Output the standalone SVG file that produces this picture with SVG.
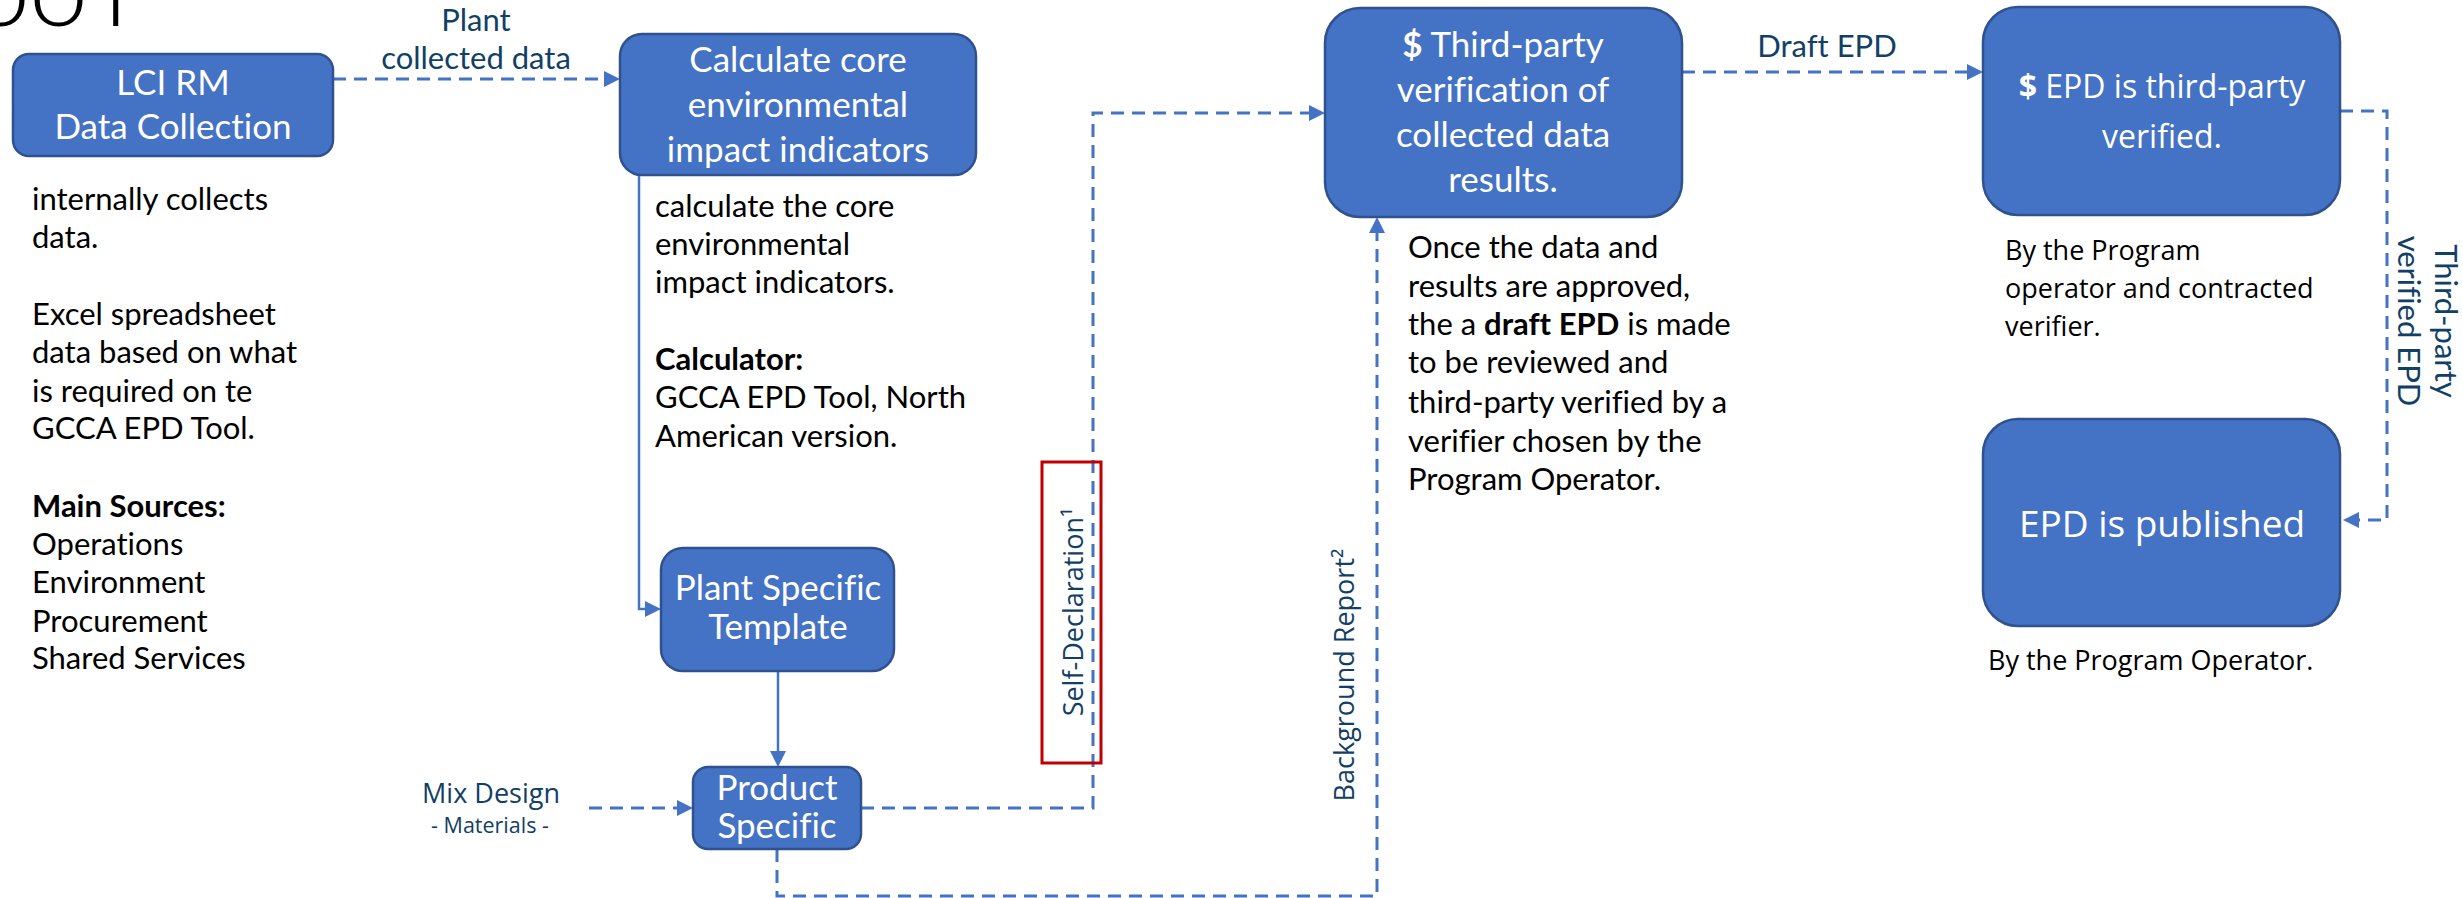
<svg xmlns="http://www.w3.org/2000/svg" width="2463" height="898" viewBox="0 0 2463 898">
<style>
text{font-variant-ligatures:none;font-feature-settings:"liga" 0,"clig" 0}
.box{fill:#4472C4;stroke:#2F528F;stroke-width:2.5}
.nt{fill:#FFFFFF;font-family:Lato,"Liberation Sans",sans-serif;font-size:35px;text-anchor:middle}
.nt2{fill:#FFFFFF;font-family:"Open Sans","Liberation Sans",sans-serif;text-anchor:middle}
.body{fill:#000000;font-family:Lato,"Liberation Sans",sans-serif;font-size:31px}
.body2{fill:#000000;font-family:"Open Sans","Liberation Sans",sans-serif;font-size:27px}
.lbl{fill:#123F66;font-family:Lato,"Liberation Sans",sans-serif;font-size:31px;text-anchor:middle}
.lbl2{fill:#123F66;font-family:"Open Sans","Liberation Sans",sans-serif;text-anchor:middle}
.dash{fill:none;stroke:#4472C4;stroke-width:3;stroke-dasharray:13 8}
.solid{fill:none;stroke:#4472C4;stroke-width:2.5}
.b{font-weight:bold}
</style>
<defs>
<marker id="ah" viewBox="0 0 16 16" markerWidth="16" markerHeight="16" refX="8" refY="8" orient="auto" markerUnits="userSpaceOnUse">
<path d="M0,0 L16,8 L0,16 z" fill="#4472C4"/>
</marker>
</defs>
<rect width="2463" height="898" fill="#FFFFFF"/>

<text id="title" x="-29 29 104" y="26" font-family="Lato,'Liberation Sans',sans-serif" font-weight="300" font-size="106" fill="#000000">ool</text>

<g id="connectors">
<path class="dash" d="M333,79 H612" marker-end="url(#ah)"/>
<path class="dash" d="M861,808 H1093 V113 H1317" marker-end="url(#ah)"/>
<path class="dash" d="M777,849 V896 H1377 V225" marker-end="url(#ah)"/>
<path class="dash" d="M1682,72 H1975" marker-end="url(#ah)"/>
<path class="dash" d="M2340,111 H2387 V520 H2351" marker-end="url(#ah)"/>
<path class="dash" d="M589,808 H685" marker-end="url(#ah)"/>
<path class="solid" d="M639,175 V609 H653" marker-end="url(#ah)"/>
<path class="solid" d="M778,671 V759" marker-end="url(#ah)"/>
<text class="lbl" x="476" y="31">Plant</text>
<text class="lbl" x="476" y="69">collected data</text>
<text class="lbl" x="1827" y="57">Draft EPD</text>
<text class="lbl2" x="491" y="803" font-size="27">Mix Design</text>
<text class="lbl2" x="490" y="833" font-size="21.5">- Materials -</text>
<rect x="1042" y="462" width="59" height="301" fill="none" stroke="#C00000" stroke-width="3"/>
<text class="lbl2" font-size="27" transform="translate(1083,612) rotate(-90)">Self-Declaration¹</text>
<text class="lbl2" font-size="27" transform="translate(1354,675) rotate(-90)">Background Report²</text>
<text class="lbl" transform="translate(2435,321) rotate(90)"><tspan x="0" y="0">Third-party</tspan><tspan x="0" y="37">verified EPD</tspan></text>
</g>

<g id="lci">
<rect class="box" x="13" y="54" width="320" height="102" rx="16"/>
<text class="nt" x="173" y="95">LCI RM</text>
<text class="nt" x="173" y="139">Data Collection</text>
<text class="body" font-size="30"><tspan x="32" y="210">internally collects</tspan><tspan x="32" y="248">data.</tspan><tspan x="32" y="325">Excel spreadsheet</tspan><tspan x="32" y="363">data based on what</tspan><tspan x="32" y="402">is required on te</tspan><tspan x="32" y="439">GCCA EPD Tool.</tspan><tspan x="32" y="517" class="b">Main Sources:</tspan><tspan x="32" y="555">Operations</tspan><tspan x="32" y="593">Environment</tspan><tspan x="32" y="632">Procurement</tspan><tspan x="32" y="669">Shared Services</tspan></text>
</g>

<g id="calc">
<rect class="box" x="620" y="34" width="356" height="141" rx="22"/>
<text class="nt" x="798" y="72">Calculate core</text>
<text class="nt" x="798" y="117">environmental</text>
<text class="nt" x="798" y="162">impact indicators</text>
<text class="body"><tspan x="655" y="217">calculate the core</tspan><tspan x="655" y="255">environmental</tspan><tspan x="655" y="293">impact indicators.</tspan><tspan x="655" y="370" class="b">Calculator:</tspan><tspan x="655" y="408">GCCA EPD Tool, North</tspan><tspan x="655" y="447">American version.</tspan></text>
</g>

<g id="plant">
<rect class="box" x="661" y="548" width="233" height="123" rx="22"/>
<text class="nt" font-size="29" x="778" y="600">Plant Specific</text>
<text class="nt" font-size="29" x="778" y="639">Template</text>
</g>

<g id="product">
<rect class="box" x="693" y="767" width="168" height="82" rx="15"/>
<text class="nt" font-size="28.5" x="777" y="800">Product</text>
<text class="nt" font-size="28.5" x="777" y="838">Specific</text>
</g>

<g id="thirdparty">
<rect class="box" x="1325" y="8" width="357" height="209" rx="35"/>
<text class="nt" x="1503" y="57"><tspan class="b">$</tspan> Third-party</text>
<text class="nt" x="1503" y="102">verification of</text>
<text class="nt" x="1503" y="147">collected data</text>
<text class="nt" x="1503" y="192">results.</text>
<text class="body"><tspan x="1408" y="258">Once the data and</tspan><tspan x="1408" y="297">results are approved,</tspan><tspan x="1408" y="335">the a <tspan class="b">draft EPD</tspan> is made</tspan><tspan x="1408" y="373">to be reviewed and</tspan><tspan x="1408" y="413">third-party verified by a</tspan><tspan x="1408" y="452">verifier chosen by the</tspan><tspan x="1408" y="490">Program Operator.</tspan></text>
</g>

<g id="verified">
<rect class="box" x="1983" y="7" width="357" height="208" rx="35"/>
<text class="nt2" font-size="32" x="2162" y="98"><tspan class="b">$</tspan> EPD is third-party</text>
<text class="nt2" font-size="32" x="2162" y="148">verified.</text>
<text class="body2"><tspan x="2005" y="260">By the Program</tspan><tspan x="2005" y="298">operator and contracted</tspan><tspan x="2005" y="336">verifier.</tspan></text>
</g>

<g id="published">
<rect class="box" x="1983" y="419" width="357" height="207" rx="35"/>
<text class="nt2" font-size="37" x="2162" y="537">EPD is published</text>
<text class="body2" x="1988" y="670">By the Program Operator.</text>
</g>
</svg>
